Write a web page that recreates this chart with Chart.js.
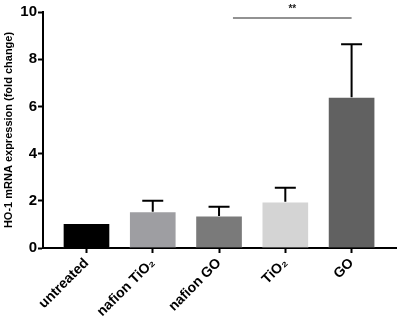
<!DOCTYPE html>
<html>
<head>
<meta charset="utf-8">
<script src="https://cdn.jsdelivr.net/npm/chart.js@4"></script>
<style>
    html, body { margin: 0; padding: 0; background: #fff; }
    #wrap { width: 403px; height: 319px; }
</style>
</head>
<body>
<div id="wrap"><canvas id="grafico"></canvas></div>
<script>
const categorias = ['untreated', 'nafion TiO\u2082', 'nafion GO', 'TiO\u2082', 'GO'];
const medias = [1.05, 1.54, 1.36, 1.96, 6.39];
const erros = [0, 0.46, 0.39, 0.59, 2.24];
const cores = ['#000000', '#9e9ea2', '#7a7a7a', '#d4d4d4', '#616161'];
const yTicks = [0, 2, 4, 6, 8, 10];
// barra de significancia (de, ate, altura, texto)
const signif = { de: 2.21, ate: 4, y: 9.75, texto: '**' };

const fonte = "'Liberation Sans', Arial, sans-serif";

const errorBars = {
    id: 'errorBars',
    afterDatasetsDraw(chart) {
        const ctx = chart.ctx;
        const xs = chart.scales.x;
        const ys = chart.scales.y;
        ctx.save();
        ctx.strokeStyle = '#000';
        ctx.lineWidth = 2;
        medias.forEach((m, i) => {
            if (!erros[i]) return;
            const x = xs.getPixelForValue(i);
            const y0 = ys.getPixelForValue(m);
            const y1 = ys.getPixelForValue(m + erros[i]);
            ctx.beginPath();
            ctx.moveTo(x, y0);
            ctx.lineTo(x, y1);
            ctx.moveTo(x - 10.5, y1);
            ctx.lineTo(x + 10.5, y1);
            ctx.stroke();
        });
        // significancia
        const xa = xs.getPixelForValue(signif.de);
        const xb = xs.getPixelForValue(signif.ate);
        const yl = ys.getPixelForValue(signif.y);
        ctx.strokeStyle = '#6e6e6e';
        ctx.lineWidth = 1.5;
        ctx.beginPath();
        ctx.moveTo(xa, yl);
        ctx.lineTo(xb, yl);
        ctx.stroke();
        ctx.fillStyle = '#222';
        ctx.font = 'bold 10px ' + fonte;
        ctx.textAlign = 'center';
        ctx.textBaseline = 'bottom';
        ctx.fillText(signif.texto, (xa + xb) / 2, yl - 4);
        ctx.restore();
    }
};

new Chart(document.getElementById('grafico'), {
    type: 'bar',
    data: {
        datasets: [{
            data: medias.map((v, i) => ({ x: i, y: v })),
            backgroundColor: cores,
            borderColor: 'rgba(255,255,255,0.35)',
            borderWidth: 1,
            barThickness: 47
        }]
    },
    options: {
        responsive: true,
        maintainAspectRatio: false,
        animation: false,
        layout: { padding: { left: 2, top: 12, right: 7, bottom: 0 } },
        plugins: {
            legend: { display: false },
            tooltip: { enabled: false }
        },
        scales: {
            x: {
                type: 'linear',
                offset: false,
                min: -0.656,
                max: 4.67,
                afterBuildTicks: (scale) => {
                    scale.ticks = categorias.map((c, i) => ({ value: i }));
                },
                afterFit: (scale) => { scale.height = 71; },
                ticks: {
                    autoSkip: false,
                    minRotation: 45,
                    maxRotation: 45,
                    padding: 2,
                    color: '#000',
                    font: { family: fonte, size: 14, weight: 'bold' },
                    callback: (v) => categorias[v]
                },
                grid: {
                    display: true,
                    offset: false,
                    drawOnChartArea: false,
                    drawTicks: true,
                    tickLength: 5,
                    tickWidth: 2,
                    color: '#000'
                },
                border: { display: true, color: '#000', width: 2 }
            },
            y: {
                min: 0,
                max: 10,
                afterBuildTicks: (scale) => {
                    scale.ticks = yTicks.map(v => ({ value: v }));
                },
                afterFit: (scale) => { scale.width = 41; },
                ticks: {
                    padding: 1,
                    color: '#000',
                    font: { family: fonte, size: 15, weight: 'bold' }
                },
                grid: {
                    display: true,
                    drawOnChartArea: false,
                    drawTicks: true,
                    tickLength: 5,
                    tickWidth: 2,
                    color: '#000'
                },
                border: { display: true, color: '#000', width: 2 },
                title: {
                    display: true,
                    text: 'HO-1 mRNA expression (fold change)',
                    color: '#000',
                    padding: 0,
                    font: { family: fonte, size: 11, weight: 'bold' }
                }
            }
        }
    },
    plugins: [errorBars]
});
</script>
</body>
</html>
